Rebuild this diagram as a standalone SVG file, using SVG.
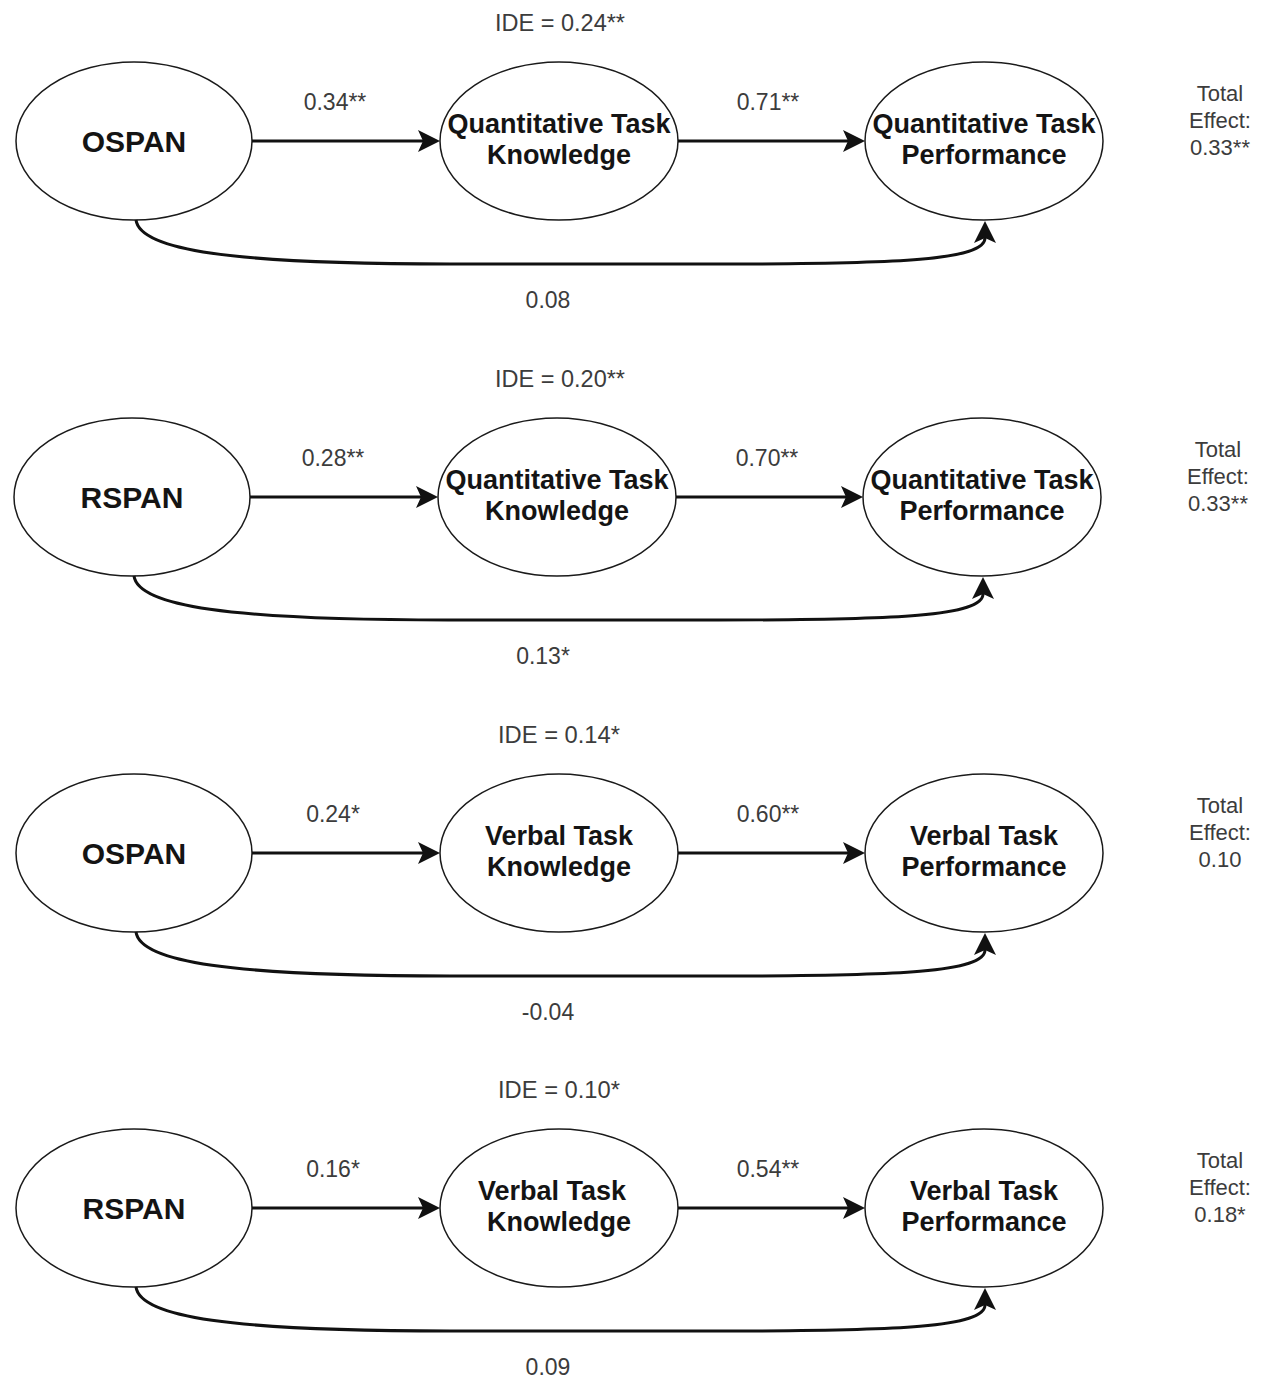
<svg xmlns="http://www.w3.org/2000/svg" width="1267" height="1383" viewBox="0 0 1267 1383">
  <style>
    .node ellipse { fill: #ffffff; stroke: #1a1a1a; stroke-width: 1.5; }
    .node text { font-family: "Liberation Sans", Arial, sans-serif; font-weight: bold; font-size: 27px; fill: #141414; text-anchor: middle; }
    .node text.big { font-size: 30px; }
    .edge { fill: none; stroke: #111111; stroke-width: 3; }
    .lbl { font-family: "Liberation Sans", Arial, sans-serif; font-size: 23px; fill: #3c3c3c; text-anchor: middle; }
    .tot { font-family: "Liberation Sans", Arial, sans-serif; font-size: 22px; fill: #3c3c3c; text-anchor: middle; }
  </style>
  <defs>
    <marker id="arrow" markerUnits="userSpaceOnUse" markerWidth="22" markerHeight="22" viewBox="0 0 22 22" refX="5" refY="11" orient="auto">
      <path d="M0,0 L22,11 L0,22 L5,11 Z" fill="#111111"/>
    </marker>
  </defs>
  <rect width="1267" height="1383" fill="#ffffff"/>

  <!-- Model 1: OSPAN -> quantitative -->
  <g id="model1">
    <g id="m1-ospan" class="node">
      <ellipse cx="134" cy="141" rx="118" ry="79"/>
      <text class="big" x="134" y="152">OSPAN</text>
    </g>
    <g id="m1-knowledge" class="node">
      <ellipse cx="559" cy="141" rx="119" ry="79"/>
      <text x="559" y="133">Quantitative Task</text>
      <text x="559" y="164">Knowledge</text>
    </g>
    <g id="m1-performance" class="node">
      <ellipse cx="984" cy="141" rx="119" ry="79"/>
      <text x="984" y="133">Quantitative Task</text>
      <text x="984" y="164">Performance</text>
    </g>
    <g id="m1-connectors">
      <line class="edge" x1="252" y1="141" x2="423" y2="141" marker-end="url(#arrow)"/>
      <line class="edge" x1="678" y1="141" x2="848" y2="141" marker-end="url(#arrow)"/>
      <path class="edge" d="M136,220 C140,250 230,264 450,264 L720,264 C900,264 985,260 985,238" marker-end="url(#arrow)"/>
    </g>
    <g id="m1-labels">
      <text class="lbl" x="560" y="31" textLength="130" lengthAdjust="spacingAndGlyphs">IDE = 0.24**</text>
      <text class="lbl" x="335" y="110">0.34**</text>
      <text class="lbl" x="768" y="110">0.71**</text>
      <text class="lbl" x="548" y="308">0.08</text>
      <text class="tot" x="1220" y="101">Total</text>
      <text class="tot" x="1220" y="128">Effect:</text>
      <text class="tot" x="1220" y="155">0.33**</text>
    </g>
  </g>

  <!-- Model 2: RSPAN -> quantitative -->
  <g id="model2" transform="translate(-2,356)">
    <g id="m2-rspan" class="node">
      <ellipse cx="134" cy="141" rx="118" ry="79"/>
      <text class="big" x="134" y="152">RSPAN</text>
    </g>
    <g id="m2-knowledge" class="node">
      <ellipse cx="559" cy="141" rx="119" ry="79"/>
      <text x="559" y="133">Quantitative Task</text>
      <text x="559" y="164">Knowledge</text>
    </g>
    <g id="m2-performance" class="node">
      <ellipse cx="984" cy="141" rx="119" ry="79"/>
      <text x="984" y="133">Quantitative Task</text>
      <text x="984" y="164">Performance</text>
    </g>
    <g id="m2-connectors">
      <line class="edge" x1="252" y1="141" x2="423" y2="141" marker-end="url(#arrow)"/>
      <line class="edge" x1="678" y1="141" x2="848" y2="141" marker-end="url(#arrow)"/>
      <path class="edge" d="M136,220 C140,250 230,264 450,264 L720,264 C900,264 985,260 985,238" marker-end="url(#arrow)"/>
    </g>
    <g id="m2-labels">
      <text class="lbl" x="562" y="31" textLength="130" lengthAdjust="spacingAndGlyphs">IDE = 0.20**</text>
      <text class="lbl" x="335" y="110">0.28**</text>
      <text class="lbl" x="769" y="110">0.70**</text>
      <text class="lbl" x="545" y="308">0.13*</text>
      <text class="tot" x="1220" y="101">Total</text>
      <text class="tot" x="1220" y="128">Effect:</text>
      <text class="tot" x="1220" y="155">0.33**</text>
    </g>
  </g>

  <!-- Model 3: OSPAN -> verbal -->
  <g id="model3" transform="translate(0,712)">
    <g id="m3-ospan" class="node">
      <ellipse cx="134" cy="141" rx="118" ry="79"/>
      <text class="big" x="134" y="152">OSPAN</text>
    </g>
    <g id="m3-knowledge" class="node">
      <ellipse cx="559" cy="141" rx="119" ry="79"/>
      <text x="559" y="133">Verbal Task</text>
      <text x="559" y="164">Knowledge</text>
    </g>
    <g id="m3-performance" class="node">
      <ellipse cx="984" cy="141" rx="119" ry="79"/>
      <text x="984" y="133">Verbal Task</text>
      <text x="984" y="164">Performance</text>
    </g>
    <g id="m3-connectors">
      <line class="edge" x1="252" y1="141" x2="423" y2="141" marker-end="url(#arrow)"/>
      <line class="edge" x1="678" y1="141" x2="848" y2="141" marker-end="url(#arrow)"/>
      <path class="edge" d="M136,220 C140,250 230,264 450,264 L720,264 C900,264 985,260 985,238" marker-end="url(#arrow)"/>
    </g>
    <g id="m3-labels">
      <text class="lbl" x="559" y="31" textLength="122" lengthAdjust="spacingAndGlyphs">IDE = 0.14*</text>
      <text class="lbl" x="333" y="110">0.24*</text>
      <text class="lbl" x="768" y="110">0.60**</text>
      <text class="lbl" x="548" y="308">-0.04</text>
      <text class="tot" x="1220" y="101">Total</text>
      <text class="tot" x="1220" y="128">Effect:</text>
      <text class="tot" x="1220" y="155">0.10</text>
    </g>
  </g>

  <!-- Model 4: RSPAN -> verbal -->
  <g id="model4" transform="translate(0,1067)">
    <g id="m4-rspan" class="node">
      <ellipse cx="134" cy="141" rx="118" ry="79"/>
      <text class="big" x="134" y="152">RSPAN</text>
    </g>
    <g id="m4-knowledge" class="node">
      <ellipse cx="559" cy="141" rx="119" ry="79"/>
      <text x="552" y="133">Verbal Task</text>
      <text x="559" y="164">Knowledge</text>
    </g>
    <g id="m4-performance" class="node">
      <ellipse cx="984" cy="141" rx="119" ry="79"/>
      <text x="984" y="133">Verbal Task</text>
      <text x="984" y="164">Performance</text>
    </g>
    <g id="m4-connectors">
      <line class="edge" x1="252" y1="141" x2="423" y2="141" marker-end="url(#arrow)"/>
      <line class="edge" x1="678" y1="141" x2="848" y2="141" marker-end="url(#arrow)"/>
      <path class="edge" d="M136,220 C140,250 230,264 450,264 L720,264 C900,264 985,260 985,238" marker-end="url(#arrow)"/>
    </g>
    <g id="m4-labels">
      <text class="lbl" x="559" y="31" textLength="122" lengthAdjust="spacingAndGlyphs">IDE = 0.10*</text>
      <text class="lbl" x="333" y="110">0.16*</text>
      <text class="lbl" x="768" y="110">0.54**</text>
      <text class="lbl" x="548" y="308">0.09</text>
      <text class="tot" x="1220" y="101">Total</text>
      <text class="tot" x="1220" y="128">Effect:</text>
      <text class="tot" x="1220" y="155">0.18*</text>
    </g>
  </g>
</svg>
